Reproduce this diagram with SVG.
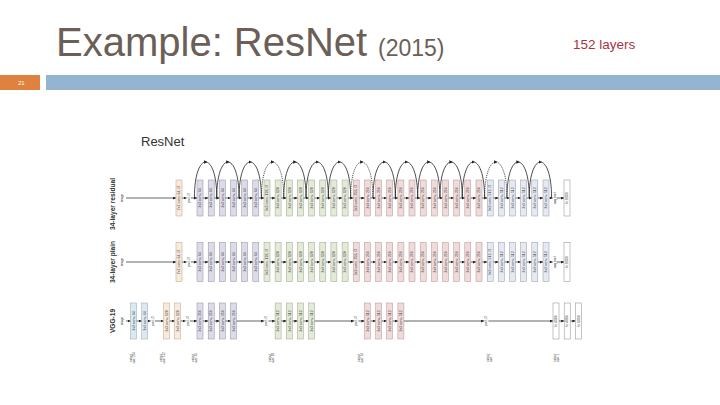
<svg xmlns="http://www.w3.org/2000/svg" width="720" height="405" viewBox="0 0 720 405">
<style>
text{font-family:"Liberation Sans",Arial,sans-serif}
.p,.g,.k,.u,.o,.c,.w{stroke-width:.5}
.p{fill:#dcdce9;stroke:#8d8da3}
.g{fill:#e4ead8;stroke:#98a386}
.k{fill:#f0dada;stroke:#b39494}
.u{fill:#e6e9f2;stroke:#8f97aa}
.o{fill:#f8eadc;stroke:#c2a284}
.c{fill:#dde9f1;stroke:#8fa4b3}
.w{fill:#fff;stroke:#888}
.bl{font-size:3.5px;fill:#333;text-anchor:middle}
.sm{font-size:3px;fill:#333;text-anchor:middle}
.bg{fill:#fff}
.ln{fill:none;stroke:#222;stroke-width:.7}
.arc{fill:none;stroke:#222;stroke-width:.8;marker-mid:url(#am)}
.dash{stroke-dasharray:1.2 1}
.rl{font-size:6.6px;font-weight:bold;fill:#333;text-anchor:middle}
</style>
<defs>
<marker id="ah" viewBox="0 0 4 4" refX="4" refY="2" markerWidth="3" markerHeight="3" markerUnits="userSpaceOnUse" orient="auto"><path d="M0,0L4,2L0,4z" fill="#222"/></marker>
<marker id="am" viewBox="0 0 4 4" refX="2" refY="2" markerWidth="3.4" markerHeight="3.4" markerUnits="userSpaceOnUse" orient="auto"><path d="M0,0L4,2L0,4z" fill="#222"/></marker>
</defs>
<rect width="720" height="405" fill="#fff"/>
<g id="header">
<text x="56" y="56" font-size="40" fill="#6b5f58">Example: ResNet</text>
<text x="378" y="56" font-size="23" fill="#6b5f58">(2015)</text>
<text x="573" y="49" font-size="13.5" fill="#a8343c">152 layers</text>
<rect x="0" y="75" width="40" height="15" fill="#e0823f"/>
<text x="18" y="85" font-size="6" fill="#fff">21</text>
<rect x="46" y="75" width="674" height="15" fill="#94b4d2"/>
<text x="141" y="146" font-size="13" fill="#333">ResNet</text>
</g>
<g id="row-labels">
<text class="rl" transform="translate(114.8,204)rotate(-90)">34-layer residual</text>
<text class="rl" transform="translate(114.8,262)rotate(-90)">34-layer plain</text>
<text class="rl" transform="translate(114.8,321)rotate(-90)">VGG-19</text>
</g>
<g id="connectors">
<polyline class="ln" marker-mid="url(#ah)" marker-end="url(#ah)" points="126,198 176,198 186.5,198 197,198 208.2,198 219.3,198 230.5,198 241.6,198 252.8,198 264,198 275.1,198 286.3,198 297.4,198 308.6,198 319.8,198 330.9,198 342.1,198 353.2,198 364.4,198 375.6,198 386.7,198 397.9,198 409,198 420.2,198 431.4,198 442.5,198 453.7,198 464.8,198 476,198 487.2,198 498.3,198 509.5,198 520.6,198 531.8,198 543,198 552.5,198 564,198"/>
<polyline class="ln" marker-mid="url(#ah)" marker-end="url(#ah)" points="126,262 176,262 186.5,262 197,262 208.2,262 219.3,262 230.5,262 241.6,262 252.8,262 264,262 275.1,262 286.3,262 297.4,262 308.6,262 319.8,262 330.9,262 342.1,262 353.2,262 364.4,262 375.6,262 386.7,262 397.9,262 409,262 420.2,262 431.4,262 442.5,262 453.7,262 464.8,262 476,262 487.2,262 498.3,262 509.5,262 520.6,262 531.8,262 543,262 552.5,262 564,262"/>
<polyline class="ln" marker-mid="url(#ah)" marker-end="url(#ah)" points="126,321 130.5,321 141.7,321 150.5,321 163.5,321 174.7,321 185.5,321 197,321 208.2,321 219.3,321 230.5,321 264,321 275.1,321 286.3,321 297.4,321 308.6,321 354,321 364.4,321 375.6,321 386.7,321 397.9,321 484,321 553,321 564.2,321 575.4,321"/>
<path class="arc" d="M194.4,198c0,-24 5.6,-36 11.2,-36s11.2,12 11.2,36"/>
<path class="arc" d="M216.7,198c0,-24 5.6,-36 11.2,-36s11.2,12 11.2,36"/>
<path class="arc" d="M239,198c0,-24 5.6,-36 11.2,-36s11.2,12 11.2,36"/>
<path class="arc dash" d="M261.4,198c0,-24 5.6,-36 11.2,-36s11.2,12 11.2,36"/>
<path class="arc" d="M283.7,198c0,-24 5.6,-36 11.2,-36s11.2,12 11.2,36"/>
<path class="arc" d="M306,198c0,-24 5.6,-36 11.2,-36s11.2,12 11.2,36"/>
<path class="arc" d="M328.3,198c0,-24 5.6,-36 11.2,-36s11.2,12 11.2,36"/>
<path class="arc dash" d="M350.6,198c0,-24 5.6,-36 11.2,-36s11.2,12 11.2,36"/>
<path class="arc" d="M373,198c0,-24 5.6,-36 11.2,-36s11.2,12 11.2,36"/>
<path class="arc" d="M395.3,198c0,-24 5.6,-36 11.2,-36s11.2,12 11.2,36"/>
<path class="arc" d="M417.6,198c0,-24 5.6,-36 11.2,-36s11.2,12 11.2,36"/>
<path class="arc" d="M439.9,198c0,-24 5.6,-36 11.2,-36s11.2,12 11.2,36"/>
<path class="arc" d="M462.2,198c0,-24 5.6,-36 11.2,-36s11.2,12 11.2,36"/>
<path class="arc dash" d="M484.6,198c0,-24 5.6,-36 11.2,-36s11.2,12 11.2,36"/>
<path class="arc" d="M506.9,198c0,-24 5.6,-36 11.2,-36s11.2,12 11.2,36"/>
<path class="arc" d="M529.2,198c0,-24 5.6,-36 11.2,-36s11.2,12 11.2,36"/>
</g>
<g id="residual" transform="translate(0,180)">
<g id="r-image"><text class="sm" transform="translate(123.3,18)rotate(-90)">image</text></g>
<g id="r-conv1"><rect class="o" x="176" width="6" height="36"/><text class="bl" transform="translate(180.2,18)rotate(-90)">7x7 conv, 64, /2</text></g>
<g id="r-pool"><rect class="bg" x="186.7" y="11" width="4.2" height="14"/><text class="sm" transform="translate(189.8,18)rotate(-90)">pool, /2</text></g>
<g id="r-1"><rect class="p" x="197" width="6" height="36"/><text class="bl" transform="translate(201.2,18)rotate(-90)">3x3 conv, 64</text></g>
<g id="r-2"><rect class="p" x="208.2" width="6" height="36"/><text class="bl" transform="translate(212.4,18)rotate(-90)">3x3 conv, 64</text></g>
<g id="r-3"><rect class="p" x="219.3" width="6" height="36"/><text class="bl" transform="translate(223.5,18)rotate(-90)">3x3 conv, 64</text></g>
<g id="r-4"><rect class="p" x="230.5" width="6" height="36"/><text class="bl" transform="translate(234.7,18)rotate(-90)">3x3 conv, 64</text></g>
<g id="r-5"><rect class="p" x="241.6" width="6" height="36"/><text class="bl" transform="translate(245.8,18)rotate(-90)">3x3 conv, 64</text></g>
<g id="r-6"><rect class="p" x="252.8" width="6" height="36"/><text class="bl" transform="translate(257,18)rotate(-90)">3x3 conv, 64</text></g>
<g id="r-7"><rect class="g" x="264" width="6" height="36"/><text class="bl" transform="translate(268.2,18)rotate(-90)">3x3 conv, 128, /2</text></g>
<g id="r-8"><rect class="g" x="275.1" width="6" height="36"/><text class="bl" transform="translate(279.3,18)rotate(-90)">3x3 conv, 128</text></g>
<g id="r-9"><rect class="g" x="286.3" width="6" height="36"/><text class="bl" transform="translate(290.5,18)rotate(-90)">3x3 conv, 128</text></g>
<g id="r-10"><rect class="g" x="297.4" width="6" height="36"/><text class="bl" transform="translate(301.6,18)rotate(-90)">3x3 conv, 128</text></g>
<g id="r-11"><rect class="g" x="308.6" width="6" height="36"/><text class="bl" transform="translate(312.8,18)rotate(-90)">3x3 conv, 128</text></g>
<g id="r-12"><rect class="g" x="319.8" width="6" height="36"/><text class="bl" transform="translate(324,18)rotate(-90)">3x3 conv, 128</text></g>
<g id="r-13"><rect class="g" x="330.9" width="6" height="36"/><text class="bl" transform="translate(335.1,18)rotate(-90)">3x3 conv, 128</text></g>
<g id="r-14"><rect class="g" x="342.1" width="6" height="36"/><text class="bl" transform="translate(346.3,18)rotate(-90)">3x3 conv, 128</text></g>
<g id="r-15"><rect class="k" x="353.2" width="6" height="36"/><text class="bl" transform="translate(357.4,18)rotate(-90)">3x3 conv, 256, /2</text></g>
<g id="r-16"><rect class="k" x="364.4" width="6" height="36"/><text class="bl" transform="translate(368.6,18)rotate(-90)">3x3 conv, 256</text></g>
<g id="r-17"><rect class="k" x="375.6" width="6" height="36"/><text class="bl" transform="translate(379.8,18)rotate(-90)">3x3 conv, 256</text></g>
<g id="r-18"><rect class="k" x="386.7" width="6" height="36"/><text class="bl" transform="translate(390.9,18)rotate(-90)">3x3 conv, 256</text></g>
<g id="r-19"><rect class="k" x="397.9" width="6" height="36"/><text class="bl" transform="translate(402.1,18)rotate(-90)">3x3 conv, 256</text></g>
<g id="r-20"><rect class="k" x="409" width="6" height="36"/><text class="bl" transform="translate(413.2,18)rotate(-90)">3x3 conv, 256</text></g>
<g id="r-21"><rect class="k" x="420.2" width="6" height="36"/><text class="bl" transform="translate(424.4,18)rotate(-90)">3x3 conv, 256</text></g>
<g id="r-22"><rect class="k" x="431.4" width="6" height="36"/><text class="bl" transform="translate(435.6,18)rotate(-90)">3x3 conv, 256</text></g>
<g id="r-23"><rect class="k" x="442.5" width="6" height="36"/><text class="bl" transform="translate(446.7,18)rotate(-90)">3x3 conv, 256</text></g>
<g id="r-24"><rect class="k" x="453.7" width="6" height="36"/><text class="bl" transform="translate(457.9,18)rotate(-90)">3x3 conv, 256</text></g>
<g id="r-25"><rect class="k" x="464.8" width="6" height="36"/><text class="bl" transform="translate(469,18)rotate(-90)">3x3 conv, 256</text></g>
<g id="r-26"><rect class="k" x="476" width="6" height="36"/><text class="bl" transform="translate(480.2,18)rotate(-90)">3x3 conv, 256</text></g>
<g id="r-27"><rect class="u" x="487.2" width="6" height="36"/><text class="bl" transform="translate(491.4,18)rotate(-90)">3x3 conv, 512, /2</text></g>
<g id="r-28"><rect class="u" x="498.3" width="6" height="36"/><text class="bl" transform="translate(502.5,18)rotate(-90)">3x3 conv, 512</text></g>
<g id="r-29"><rect class="u" x="509.5" width="6" height="36"/><text class="bl" transform="translate(513.7,18)rotate(-90)">3x3 conv, 512</text></g>
<g id="r-30"><rect class="u" x="520.6" width="6" height="36"/><text class="bl" transform="translate(524.8,18)rotate(-90)">3x3 conv, 512</text></g>
<g id="r-31"><rect class="u" x="531.8" width="6" height="36"/><text class="bl" transform="translate(536,18)rotate(-90)">3x3 conv, 512</text></g>
<g id="r-32"><rect class="u" x="543" width="6" height="36"/><text class="bl" transform="translate(547.2,18)rotate(-90)">3x3 conv, 512</text></g>
<g id="r-avgpool"><rect class="bg" x="552.8" y="11" width="4.2" height="14"/><text class="sm" transform="translate(555.9,18)rotate(-90)">avg pool</text></g>
<g id="r-fc"><rect class="w" x="564" width="6" height="36"/><text class="bl" transform="translate(568.2,18)rotate(-90)">fc 1000</text></g>
</g>
<g id="plain" transform="translate(0,242.5)">
<g id="p-image"><text class="sm" transform="translate(123.3,19.5)rotate(-90)">image</text></g>
<g id="p-conv1"><rect class="o" x="176" width="6" height="39"/><text class="bl" transform="translate(180.2,19.5)rotate(-90)">7x7 conv, 64, /2</text></g>
<g id="p-pool"><rect class="bg" x="186.7" y="12.5" width="4.2" height="14"/><text class="sm" transform="translate(189.8,19.5)rotate(-90)">pool, /2</text></g>
<g id="p-1"><rect class="p" x="197" width="6" height="39"/><text class="bl" transform="translate(201.2,19.5)rotate(-90)">3x3 conv, 64</text></g>
<g id="p-2"><rect class="p" x="208.2" width="6" height="39"/><text class="bl" transform="translate(212.4,19.5)rotate(-90)">3x3 conv, 64</text></g>
<g id="p-3"><rect class="p" x="219.3" width="6" height="39"/><text class="bl" transform="translate(223.5,19.5)rotate(-90)">3x3 conv, 64</text></g>
<g id="p-4"><rect class="p" x="230.5" width="6" height="39"/><text class="bl" transform="translate(234.7,19.5)rotate(-90)">3x3 conv, 64</text></g>
<g id="p-5"><rect class="p" x="241.6" width="6" height="39"/><text class="bl" transform="translate(245.8,19.5)rotate(-90)">3x3 conv, 64</text></g>
<g id="p-6"><rect class="p" x="252.8" width="6" height="39"/><text class="bl" transform="translate(257,19.5)rotate(-90)">3x3 conv, 64</text></g>
<g id="p-7"><rect class="g" x="264" width="6" height="39"/><text class="bl" transform="translate(268.2,19.5)rotate(-90)">3x3 conv, 128, /2</text></g>
<g id="p-8"><rect class="g" x="275.1" width="6" height="39"/><text class="bl" transform="translate(279.3,19.5)rotate(-90)">3x3 conv, 128</text></g>
<g id="p-9"><rect class="g" x="286.3" width="6" height="39"/><text class="bl" transform="translate(290.5,19.5)rotate(-90)">3x3 conv, 128</text></g>
<g id="p-10"><rect class="g" x="297.4" width="6" height="39"/><text class="bl" transform="translate(301.6,19.5)rotate(-90)">3x3 conv, 128</text></g>
<g id="p-11"><rect class="g" x="308.6" width="6" height="39"/><text class="bl" transform="translate(312.8,19.5)rotate(-90)">3x3 conv, 128</text></g>
<g id="p-12"><rect class="g" x="319.8" width="6" height="39"/><text class="bl" transform="translate(324,19.5)rotate(-90)">3x3 conv, 128</text></g>
<g id="p-13"><rect class="g" x="330.9" width="6" height="39"/><text class="bl" transform="translate(335.1,19.5)rotate(-90)">3x3 conv, 128</text></g>
<g id="p-14"><rect class="g" x="342.1" width="6" height="39"/><text class="bl" transform="translate(346.3,19.5)rotate(-90)">3x3 conv, 128</text></g>
<g id="p-15"><rect class="k" x="353.2" width="6" height="39"/><text class="bl" transform="translate(357.4,19.5)rotate(-90)">3x3 conv, 256, /2</text></g>
<g id="p-16"><rect class="k" x="364.4" width="6" height="39"/><text class="bl" transform="translate(368.6,19.5)rotate(-90)">3x3 conv, 256</text></g>
<g id="p-17"><rect class="k" x="375.6" width="6" height="39"/><text class="bl" transform="translate(379.8,19.5)rotate(-90)">3x3 conv, 256</text></g>
<g id="p-18"><rect class="k" x="386.7" width="6" height="39"/><text class="bl" transform="translate(390.9,19.5)rotate(-90)">3x3 conv, 256</text></g>
<g id="p-19"><rect class="k" x="397.9" width="6" height="39"/><text class="bl" transform="translate(402.1,19.5)rotate(-90)">3x3 conv, 256</text></g>
<g id="p-20"><rect class="k" x="409" width="6" height="39"/><text class="bl" transform="translate(413.2,19.5)rotate(-90)">3x3 conv, 256</text></g>
<g id="p-21"><rect class="k" x="420.2" width="6" height="39"/><text class="bl" transform="translate(424.4,19.5)rotate(-90)">3x3 conv, 256</text></g>
<g id="p-22"><rect class="k" x="431.4" width="6" height="39"/><text class="bl" transform="translate(435.6,19.5)rotate(-90)">3x3 conv, 256</text></g>
<g id="p-23"><rect class="k" x="442.5" width="6" height="39"/><text class="bl" transform="translate(446.7,19.5)rotate(-90)">3x3 conv, 256</text></g>
<g id="p-24"><rect class="k" x="453.7" width="6" height="39"/><text class="bl" transform="translate(457.9,19.5)rotate(-90)">3x3 conv, 256</text></g>
<g id="p-25"><rect class="k" x="464.8" width="6" height="39"/><text class="bl" transform="translate(469,19.5)rotate(-90)">3x3 conv, 256</text></g>
<g id="p-26"><rect class="k" x="476" width="6" height="39"/><text class="bl" transform="translate(480.2,19.5)rotate(-90)">3x3 conv, 256</text></g>
<g id="p-27"><rect class="u" x="487.2" width="6" height="39"/><text class="bl" transform="translate(491.4,19.5)rotate(-90)">3x3 conv, 512, /2</text></g>
<g id="p-28"><rect class="u" x="498.3" width="6" height="39"/><text class="bl" transform="translate(502.5,19.5)rotate(-90)">3x3 conv, 512</text></g>
<g id="p-29"><rect class="u" x="509.5" width="6" height="39"/><text class="bl" transform="translate(513.7,19.5)rotate(-90)">3x3 conv, 512</text></g>
<g id="p-30"><rect class="u" x="520.6" width="6" height="39"/><text class="bl" transform="translate(524.8,19.5)rotate(-90)">3x3 conv, 512</text></g>
<g id="p-31"><rect class="u" x="531.8" width="6" height="39"/><text class="bl" transform="translate(536,19.5)rotate(-90)">3x3 conv, 512</text></g>
<g id="p-32"><rect class="u" x="543" width="6" height="39"/><text class="bl" transform="translate(547.2,19.5)rotate(-90)">3x3 conv, 512</text></g>
<g id="p-avgpool"><rect class="bg" x="552.8" y="12.5" width="4.2" height="14"/><text class="sm" transform="translate(555.9,19.5)rotate(-90)">avg pool</text></g>
<g id="p-fc"><rect class="w" x="564" width="6" height="39"/><text class="bl" transform="translate(568.2,19.5)rotate(-90)">fc 1000</text></g>
</g>
<g id="vgg" transform="translate(0,303)">
<g id="v-image"><text class="sm" transform="translate(123.3,18)rotate(-90)">image</text></g>
<g id="v-1"><rect class="c" x="130.5" width="6" height="36"/><text class="bl" transform="translate(134.7,18)rotate(-90)">3x3 conv, 64</text></g>
<g id="v-2"><rect class="c" x="141.7" width="6" height="36"/><text class="bl" transform="translate(145.9,18)rotate(-90)">3x3 conv, 64</text></g>
<g id="v-pool1"><rect class="bg" x="150.7" y="11" width="4.2" height="14"/><text class="sm" transform="translate(153.8,18)rotate(-90)">pool, /2</text></g>
<g id="v-3"><rect class="o" x="163.5" width="6" height="36"/><text class="bl" transform="translate(167.7,18)rotate(-90)">3x3 conv, 128</text></g>
<g id="v-4"><rect class="o" x="174.7" width="6" height="36"/><text class="bl" transform="translate(178.9,18)rotate(-90)">3x3 conv, 128</text></g>
<g id="v-pool2"><rect class="bg" x="185.7" y="11" width="4.2" height="14"/><text class="sm" transform="translate(188.8,18)rotate(-90)">pool, /2</text></g>
<g id="v-5"><rect class="p" x="197" width="6" height="36"/><text class="bl" transform="translate(201.2,18)rotate(-90)">3x3 conv, 256</text></g>
<g id="v-6"><rect class="p" x="208.2" width="6" height="36"/><text class="bl" transform="translate(212.4,18)rotate(-90)">3x3 conv, 256</text></g>
<g id="v-7"><rect class="p" x="219.3" width="6" height="36"/><text class="bl" transform="translate(223.5,18)rotate(-90)">3x3 conv, 256</text></g>
<g id="v-8"><rect class="p" x="230.5" width="6" height="36"/><text class="bl" transform="translate(234.7,18)rotate(-90)">3x3 conv, 256</text></g>
<g id="v-pool3"><rect class="bg" x="264.2" y="11" width="4.2" height="14"/><text class="sm" transform="translate(267.3,18)rotate(-90)">pool, /2</text></g>
<g id="v-9"><rect class="g" x="275.1" width="6" height="36"/><text class="bl" transform="translate(279.3,18)rotate(-90)">3x3 conv, 512</text></g>
<g id="v-10"><rect class="g" x="286.3" width="6" height="36"/><text class="bl" transform="translate(290.5,18)rotate(-90)">3x3 conv, 512</text></g>
<g id="v-11"><rect class="g" x="297.4" width="6" height="36"/><text class="bl" transform="translate(301.6,18)rotate(-90)">3x3 conv, 512</text></g>
<g id="v-12"><rect class="g" x="308.6" width="6" height="36"/><text class="bl" transform="translate(312.8,18)rotate(-90)">3x3 conv, 512</text></g>
<g id="v-pool4"><rect class="bg" x="354.2" y="11" width="4.2" height="14"/><text class="sm" transform="translate(357.3,18)rotate(-90)">pool, /2</text></g>
<g id="v-13"><rect class="k" x="364.4" width="6" height="36"/><text class="bl" transform="translate(368.6,18)rotate(-90)">3x3 conv, 512</text></g>
<g id="v-14"><rect class="k" x="375.6" width="6" height="36"/><text class="bl" transform="translate(379.8,18)rotate(-90)">3x3 conv, 512</text></g>
<g id="v-15"><rect class="k" x="386.7" width="6" height="36"/><text class="bl" transform="translate(390.9,18)rotate(-90)">3x3 conv, 512</text></g>
<g id="v-16"><rect class="k" x="397.9" width="6" height="36"/><text class="bl" transform="translate(402.1,18)rotate(-90)">3x3 conv, 512</text></g>
<g id="v-pool5"><rect class="bg" x="484.2" y="11" width="4.2" height="14"/><text class="sm" transform="translate(487.3,18)rotate(-90)">pool, /2</text></g>
<g id="v-fc1"><rect class="w" x="553" width="6" height="36"/><text class="bl" transform="translate(557.2,18)rotate(-90)">fc 4096</text></g>
<g id="v-fc2"><rect class="w" x="564.2" width="6" height="36"/><text class="bl" transform="translate(568.4,18)rotate(-90)">fc 4096</text></g>
<g id="v-fc3"><rect class="w" x="575.4" width="6" height="36"/><text class="bl" transform="translate(579.6,18)rotate(-90)">fc 1000</text></g>
<g id="v-sizes" font-size="2.8" fill="#444" text-anchor="middle">
<text transform="translate(131.8,55)rotate(-90)">output</text><text transform="translate(134.7,55)rotate(-90)">size: 224</text>
<text transform="translate(161.8,55)rotate(-90)">output</text><text transform="translate(164.7,55)rotate(-90)">size: 112</text>
<text transform="translate(193.8,55)rotate(-90)">output</text><text transform="translate(196.7,55)rotate(-90)">size: 56</text>
<text transform="translate(271.3,55)rotate(-90)">output</text><text transform="translate(274.2,55)rotate(-90)">size: 28</text>
<text transform="translate(359.8,55)rotate(-90)">output</text><text transform="translate(362.7,55)rotate(-90)">size: 14</text>
<text transform="translate(488.8,55)rotate(-90)">output</text><text transform="translate(491.7,55)rotate(-90)">size: 7</text>
<text transform="translate(555.8,55)rotate(-90)">output</text><text transform="translate(558.7,55)rotate(-90)">size: 1</text>
</g>
</g>
</svg>
